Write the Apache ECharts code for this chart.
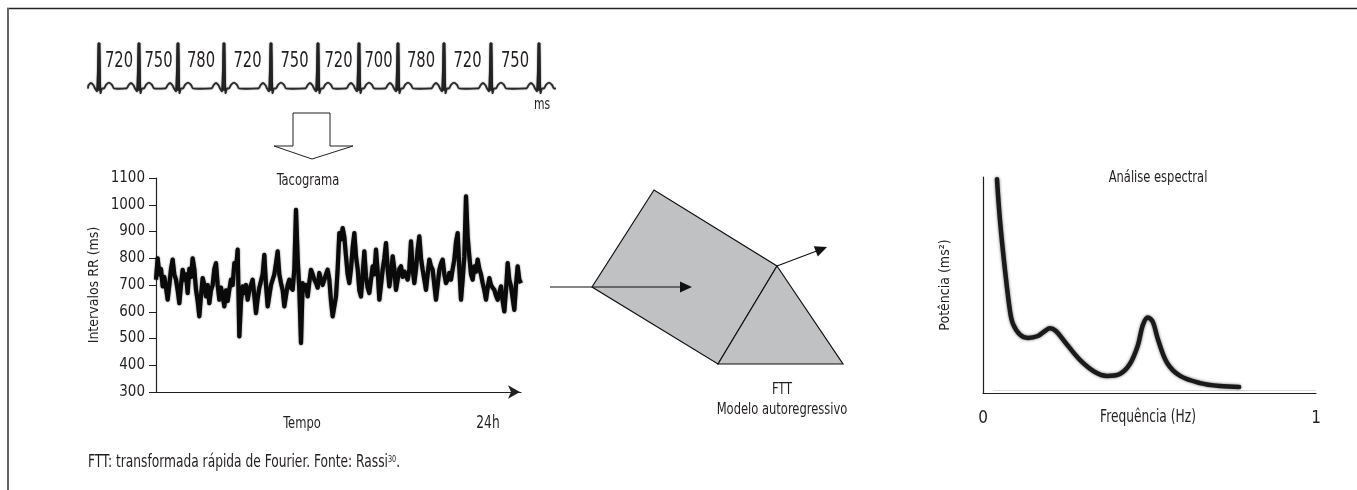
<!DOCTYPE html>
<html>
<head>
<meta charset="utf-8">
<script src="https://cdn.jsdelivr.net/npm/echarts@6/dist/echarts.min.js"></script>
<style>
html,body{margin:0;padding:0;background:#fff;}
#chart{width:1357px;height:490px;}
</style>
</head>
<body>
<div id="chart"></div>
<script>
// ---------- DATA ----------
const rrLabels = [720, 750, 780, 720, 750, 720, 700, 780, 720, 750];
const ecgBeatPos = [11, 51, 90, 136, 183, 230, 271, 310, 356, 403, 451];
const ecgLength = 468;

const tacoYMin = 300, tacoYMax = 1100, tacoYStep = 100;
const tacoValues = [
  720,800,740,760,695,730,690,645,700,760,
  795,740,720,680,632,700,757,720,740,670,
  760,730,800,760,682,640,583,660,726,700,
  657,700,632,680,700,760,782,700,645,690,
  660,620,680,640,682,720,700,782,760,832,
  508,640,695,670,700,645,680,700,720,660,
  595,650,690,695,740,813,700,620,660,700,
  695,740,780,826,740,707,680,620,660,700,
  720,690,682,760,981,800,682,483,707,680,
  700,657,710,757,740,720,707,690,745,720,
  700,720,740,757,720,640,583,620,657,760,
  894,870,913,880,807,740,707,760,840,894,
  807,760,680,657,740,826,732,690,670,720,
  770,740,832,750,645,700,757,800,857,760,
  695,740,807,760,682,720,760,770,730,750,
  745,720,760,863,760,707,760,832,882,800,
  757,720,682,740,795,770,757,700,645,700,
  757,780,795,740,707,720,745,720,760,795,
  860,894,760,645,720,807,1031,880,807,740,
  720,770,750,795,760,740,707,680,645,690,
  726,700,690,682,660,645,670,695,640,601,
  680,782,720,695,650,607,700,770,720,707
];
const tacoIndex = tacoValues.map((_, i) => i);

const spectrumFreq  = [0.042,0.051,0.066,0.081,0.090,0.111,0.135,0.165,0.186,0.201,0.219,0.246,0.291,0.336,0.372,0.411,0.441,0.465,0.480,0.495,0.510,0.526,0.553,0.592,0.652,0.712,0.769];
const spectrumPower = [99,80,57,38,32,27,25.5,26.4,28.7,30,28.7,23.6,15.3,9.7,7.9,8.8,13.4,22,31.5,35,32.9,24.5,13.9,7.9,4.6,3.2,2.8];
const freqTicks = [0, 1];

// ---------- STYLE ----------
const FF = "'Liberation Sans Narrow','DejaVu Sans Condensed','Roboto Condensed',sans-serif";
const INK = '#231f20';
const SQ = 0.8; // horizontal condensing of free texts

function txt(text, x, y, size, align, rich) {
  const st = {
    text: text, x: 0, y: 0, fill: INK,
    fontSize: size, fontFamily: FF,
    textAlign: align || 'center', align: align || 'center',
    textVerticalAlign: 'middle', verticalAlign: 'middle'
  };
  if (rich) st.rich = rich;
  return {type: 'text', silent: true, x: x, y: y, scaleX: SQ, scaleY: 1, style: st};
}

// ECG beat template (offsets relative to R peak) – drawing shape only
const beatShape = [[-12,0],[-10.5,0.07],[-8,0.12],[-5.5,0.07],[-4,0],[-2,-0.06],[0,1],[1.5,-0.1],[3,0],[5,0],[7,0.08],[10,0.13],[13,0.08],[15,0]];

const chart = echarts.init(document.getElementById('chart'), null, {renderer: 'canvas'});

const option = {
  backgroundColor: '#fff',
  animation: false,
  grid: [
    {left: 88, width: 468, top: 43, height: 50},          // ECG strip
    {left: 156, right: 836, top: 178, bottom: 98},       // tacogram
    {left: 983, right: 41, top: 177, bottom: 97}         // spectrum
  ],
  xAxis: [
    {gridIndex: 0, type: 'value', min: 0, max: ecgLength, show: false},
    {gridIndex: 1, type: 'category', data: tacoIndex, boundaryGap: false,
      axisLine: {lineStyle: {color: INK, width: 1.2}, symbol: ['none', 'arrow'], symbolSize: [10, 12], symbolOffset: [0, -1]},
      axisTick: {show: false}, axisLabel: {show: false}, splitLine: {show: false}},
    {gridIndex: 2, type: 'value', min: freqTicks[0], max: freqTicks[1], interval: 1,
      axisLine: {lineStyle: {color: INK, width: 1.2}},
      axisTick: {show: false},
      axisLabel: {margin: 17, fontFamily: FF, fontSize: 17, color: INK, verticalAlign: 'top'},
      splitLine: {show: false}}
  ],
  yAxis: [
    {gridIndex: 0, type: 'value', min: -0.1, max: 1, show: false},
    {gridIndex: 1, type: 'value', min: tacoYMin, max: tacoYMax, interval: tacoYStep,
      name: 'Intervalos RR (ms)', nameLocation: 'middle', nameGap: 55,
      nameTextStyle: {fontFamily: FF, fontSize: 14, color: INK},
      axisLine: {show: true, lineStyle: {color: INK, width: 1.2}},
      axisTick: {show: true, length: 7, lineStyle: {color: INK, width: 1}},
      axisLabel: {margin: 11, fontFamily: FF, fontSize: 15, color: INK, formatter: v => String(v)},
      splitLine: {show: false}},
    {gridIndex: 2, type: 'value', min: 0, max: 100,
      name: 'Potência (ms²)', nameLocation: 'middle', nameGap: 31,
      nameTextStyle: {fontFamily: FF, fontSize: 14, color: INK},
      axisLine: {show: true, lineStyle: {color: INK, width: 1.2}},
      axisTick: {show: false}, axisLabel: {show: false}, splitLine: {show: false}}
  ],
  series: [
    {
      type: 'custom', xAxisIndex: 0, yAxisIndex: 0, clip: false, silent: true,
      data: ecgBeatPos.map((p, i) => [p, i]),
      renderItem: function (params, api) {
        const pos = api.value(0);
        const i = api.value(1);
        const isLast = i === ecgBeatPos.length - 1;
        const nxt = isLast ? null : ecgBeatPos[i + 1];
        const pts = beatShape.map(d => api.coord([Math.max(0, pos + d[0]), d[1]]));
        pts.push(api.coord([isLast ? ecgLength : nxt - 12, 0]));
        const base = api.coord([pos, -0.05]);
        const top = api.coord([pos, 1]);
        const children = [
          {type: 'polyline', shape: {points: pts, smooth: 0.2},
            style: {stroke: '#2a2a2a', lineWidth: 1.8, fill: null, shadowBlur: 1.5, shadowColor: 'rgba(0,0,0,0.5)'}},
          {type: 'line', shape: {x1: base[0], y1: base[1], x2: top[0], y2: top[1]},
            style: {stroke: '#222', lineWidth: 3, shadowBlur: 1.5, shadowColor: 'rgba(0,0,0,0.5)'}}
        ];
        if (!isLast) {
          const c = api.coord([(pos + nxt) / 2, 0.6]);
          children.push({type: 'text', x: c[0], y: c[1], scaleX: 0.78, scaleY: 1,
            style: {text: String(rrLabels[i]), x: 0, y: 0,
            textAlign: 'center', align: 'center', textVerticalAlign: 'middle', verticalAlign: 'middle',
            fontSize: 21, fontFamily: FF, fill: INK}});
        }
        return {type: 'group', children: children};
      }
    },
    {
      type: 'line', xAxisIndex: 1, yAxisIndex: 1, data: tacoValues,
      showSymbol: false, symbol: 'none', silent: true,
      lineStyle: {color: '#0a0a0a', width: 4.2, shadowBlur: 2, shadowColor: 'rgba(0,0,0,0.6)', join: 'round'}
    },
    {
      type: 'line', xAxisIndex: 2, yAxisIndex: 2,
      data: spectrumFreq.map((f, i) => [f, spectrumPower[i]]),
      smooth: 0.35, showSymbol: false, symbol: 'none', silent: true,
      lineStyle: {color: '#1a1a1a', width: 4.5, shadowBlur: 3, shadowColor: 'rgba(0,0,0,0.6)', cap: 'round'}
    }
  ],
  graphic: [
    // frame
    {type: 'line', silent: true, shape: {x1: 7, y1: 8.5, x2: 1357, y2: 8.5}, style: {stroke: '#222', lineWidth: 1.6}},
    {type: 'line', silent: true, shape: {x1: 8, y1: 8, x2: 8, y2: 490}, style: {stroke: '#666', lineWidth: 2}},
    // hollow down arrow
    {type: 'polygon', silent: true,
      shape: {points: [[293,113],[330,113],[330,146],[353,146],[312,159],[274,146],[293,146]]},
      style: {fill: '#fff', stroke: INK, lineWidth: 1}},
    // prism
    {type: 'polygon', silent: true, shape: {points: [[592,287],[654,190],[777,266],[718,364]]},
      style: {fill: '#c0c1c3', stroke: '#111', lineWidth: 1.2}},
    {type: 'polygon', silent: true, shape: {points: [[718,364],[777,266],[843,364]]},
      style: {fill: '#c0c1c3', stroke: '#111', lineWidth: 1.2}},
    // input arrow
    {type: 'line', silent: true, shape: {x1: 550, y1: 287, x2: 682, y2: 287}, style: {stroke: '#111', lineWidth: 1.2}},
    {type: 'polygon', silent: true, shape: {points: [[680,281.5],[692,287],[680,292.5]]}, style: {fill: '#111'}},
    // output arrow
    {type: 'line', silent: true, shape: {x1: 777, y1: 266, x2: 816, y2: 251.3}, style: {stroke: '#111', lineWidth: 1.2}},
    {type: 'polygon', silent: true, shape: {points: [[817.8,256.4],[827,247],[813.8,246.2]]}, style: {fill: '#111'}},
    // faint baseline in spectrum
    {type: 'line', silent: true, shape: {x1: 993, y1: 390.5, x2: 1316, y2: 390.5}, style: {stroke: '#dcdcdc', lineWidth: 1}},
    // texts
    txt('ms', 542, 105, 15),
    txt('Tacograma', 308, 181, 16),
    txt('Tempo', 302, 424, 16),
    txt('24h', 488, 424, 17),
    txt('FTT', 782, 390, 16),
    txt('Modelo autoregressivo', 782, 410, 16),
    txt('Análise espectral', 1158, 178, 16),
    txt('Frequência (Hz)', 1148, 418, 17),
    txt('FTT: transformada rápida de Fourier. Fonte: Rassi{sup|30}.', 88, 463, 17, 'left',
      {sup: {fontSize: 9, fontFamily: FF, fill: INK, padding: [0, 0, 7, 0]}})
  ]
};
chart.setOption(option);
</script>
</body>
</html>
